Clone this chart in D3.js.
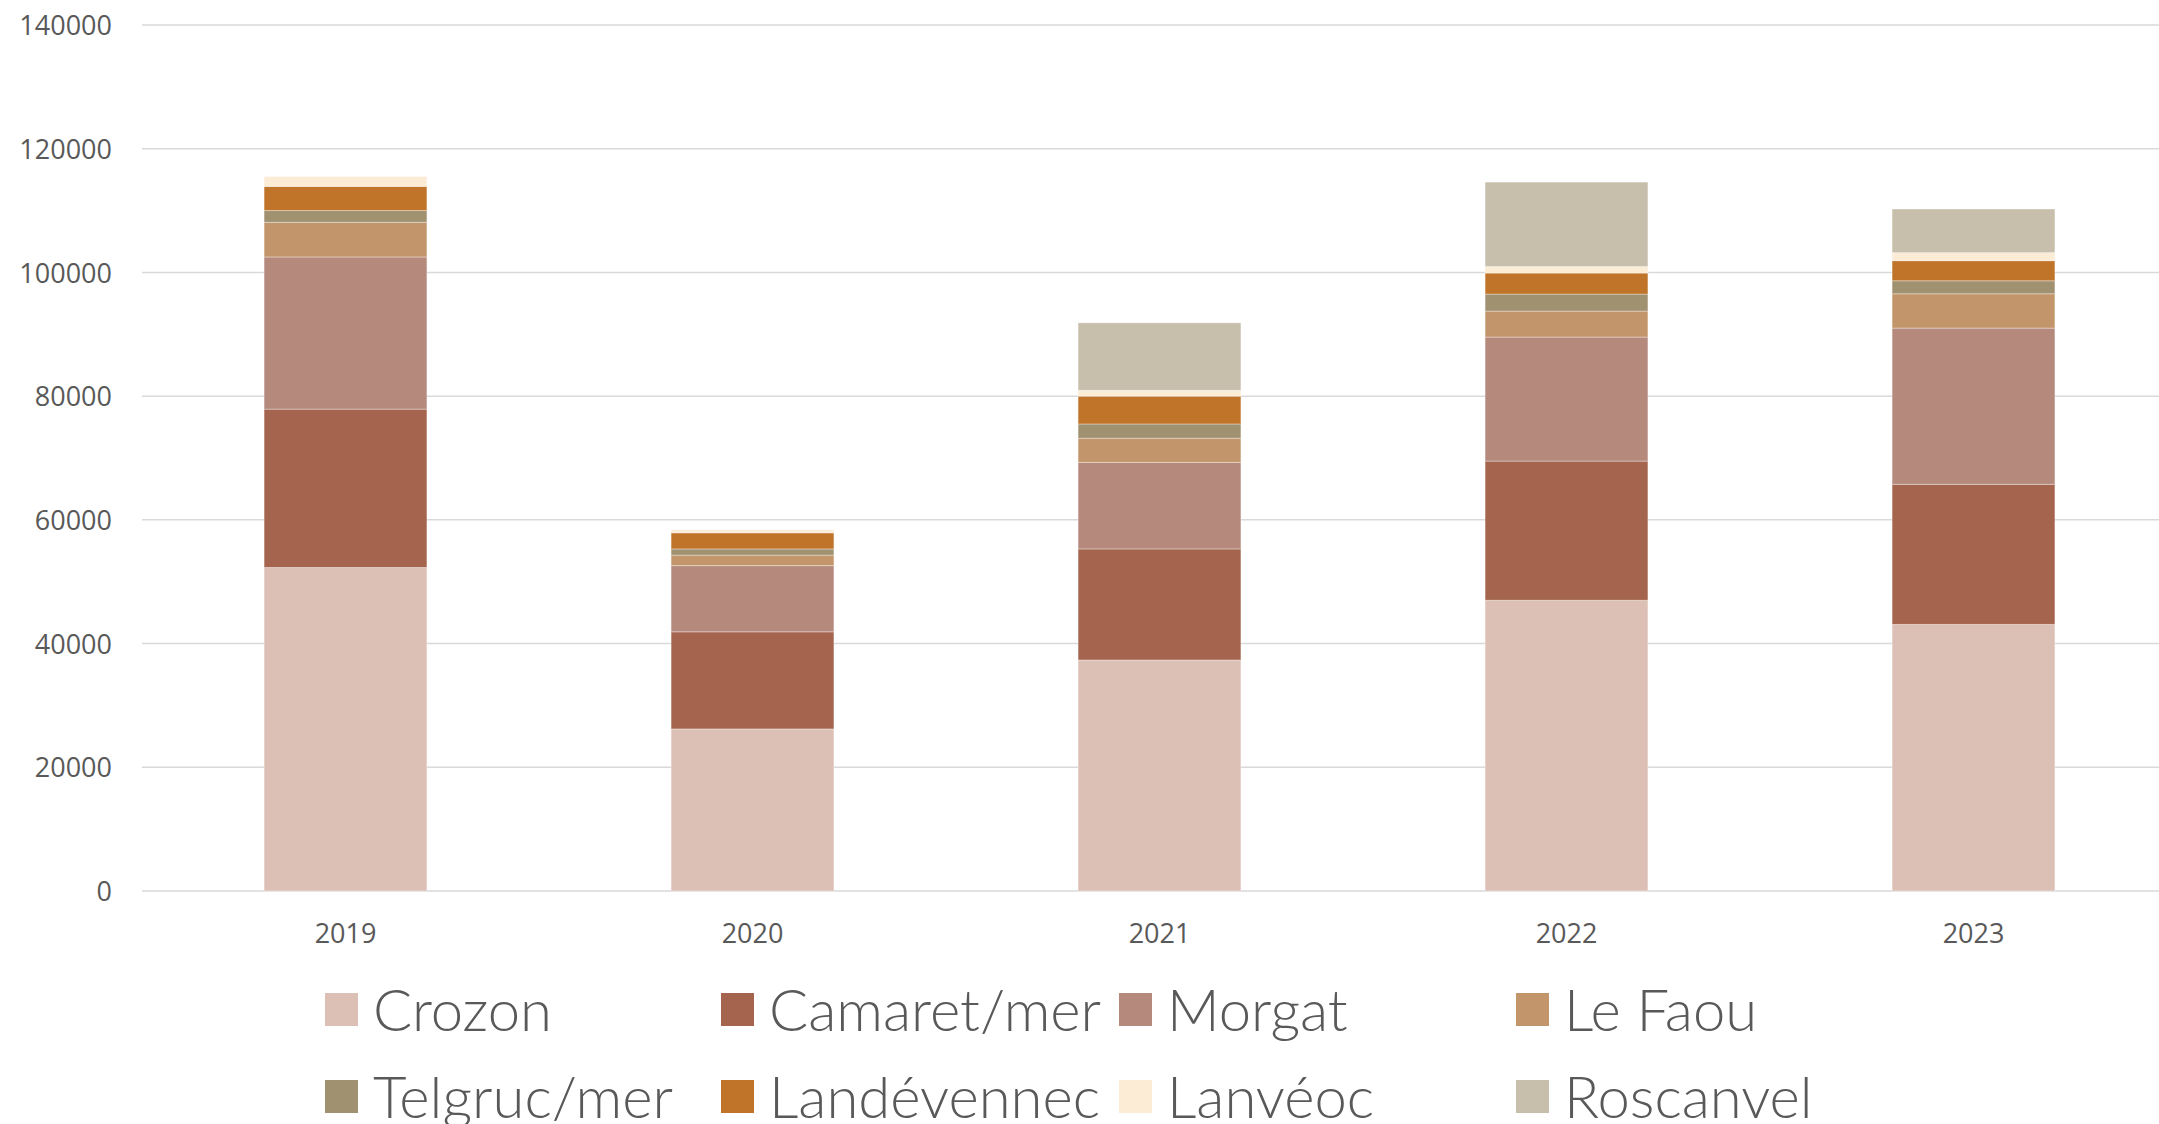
<!DOCTYPE html>
<html><head><meta charset="utf-8">
<script src="https://cdn.jsdelivr.net/npm/d3@7"></script>
<style>html,body{margin:0;padding:0;background:#fff;overflow:hidden}</style>
</head><body>
<script>
const years = ["2019","2020","2021","2022","2023"];
const seriesNames = ["Crozon","Camaret/mer","Morgat","Le Faou","Telgruc/mer","Landévennec","Lanvéoc","Roscanvel"];
const crozon      = [52300, 26200, 37350, 47000, 43100];
const camaret     = [25600, 15700, 17950, 22500, 22650];
const morgat      = [24600, 10700, 14000, 20050, 25250];
const leFaou      = [5600, 1700, 3900, 4200, 5550];
const telgruc     = [1900, 1000, 2300, 2750, 2100];
const landevennec = [3900, 2600, 4500, 3400, 3250];
const lanveoc     = [1600, 500, 950, 1050, 1300];
const roscanvel   = [0, 0, 10900, 13650, 7050];
const yTicks = [0, 20000, 40000, 60000, 80000, 100000, 120000, 140000];
const colors = ["#DDC0B5","#A4644E","#B5897C","#C3956A","#A09170","#C0742A","#FCEBD5","#C7BEAB"];

const seriesValues = [crozon, camaret, morgat, leFaou, telgruc, landevennec, lanveoc, roscanvel];
const table = years.map((y, i) => {
  const row = {year: y};
  seriesNames.forEach((s, k) => row[s] = seriesValues[k][i]);
  return row;
});

const W = 2159, H = 1124;
const svg = d3.select("body").append("svg").attr("width", W).attr("height", H);

const x = d3.scaleBand().domain(years).range([142, 2177]).paddingInner(0.6).paddingOuter(0.3);
const y = d3.scaleLinear().domain([0, 140000]).range([891, 25]);

// gridlines
svg.append("g").selectAll("line").data(yTicks).join("line")
  .attr("x1", 142).attr("x2", W)
  .attr("y1", d => y(d)).attr("y2", d => y(d))
  .attr("stroke", "#d9d9d9").attr("stroke-width", 1.5);

// y axis labels
const yAxis = d3.axisLeft(y).tickValues(yTicks).tickSize(0).tickPadding(0).tickFormat(d3.format("d"));
const gy = svg.append("g").attr("transform", "translate(112,1)").call(yAxis);
gy.select(".domain").remove();
gy.selectAll("text").attr("fill", "#595959").style("font-family", "'Open Sans', sans-serif").style("font-size", "27px");

// x axis labels
const xAxis = d3.axisBottom(x).tickSize(0).tickPadding(0);
const gx = svg.append("g").attr("transform", "translate(0,924)").call(xAxis);
gx.select(".domain").remove();
gx.selectAll("text").attr("fill", "#595959").style("font-family", "'Open Sans', sans-serif").style("font-size", "27px");

// stacked bars
const stack = d3.stack().keys(seriesNames)(table);
svg.append("g").selectAll("g").data(stack).join("g")
  .attr("fill", (d, i) => colors[i])
  .selectAll("rect").data(d => d.filter(p => p[1] - p[0] > 0)).join("rect")
  .attr("x", d => x(d.data.year))
  .attr("width", x.bandwidth())
  .attr("y", d => y(d[1]))
  .attr("height", d => y(d[0]) - y(d[1]))
  .attr("stroke", "rgba(255,255,255,0.35)").attr("stroke-width", 1);

// legend
const legX = [325, 721, 1119, 1516];
const legY = [1010, 1097];
const leg = svg.append("g").selectAll("g").data(seriesNames).join("g")
  .attr("transform", (d, i) => `translate(${legX[i % 4]},${legY[Math.floor(i / 4)]})`);
leg.append("rect").attr("x", 0).attr("y", -17).attr("width", 33).attr("height", 33)
  .attr("fill", (d, i) => colors[i]);
leg.append("text").attr("x", 48).attr("y", 0).attr("dy", "0.36em")
  .attr("fill", "#595959")
  .style("font-family", "Lato, sans-serif").style("font-size", "58px").style("font-weight", 300)
  .text(d => d);
</script>
</body></html>
